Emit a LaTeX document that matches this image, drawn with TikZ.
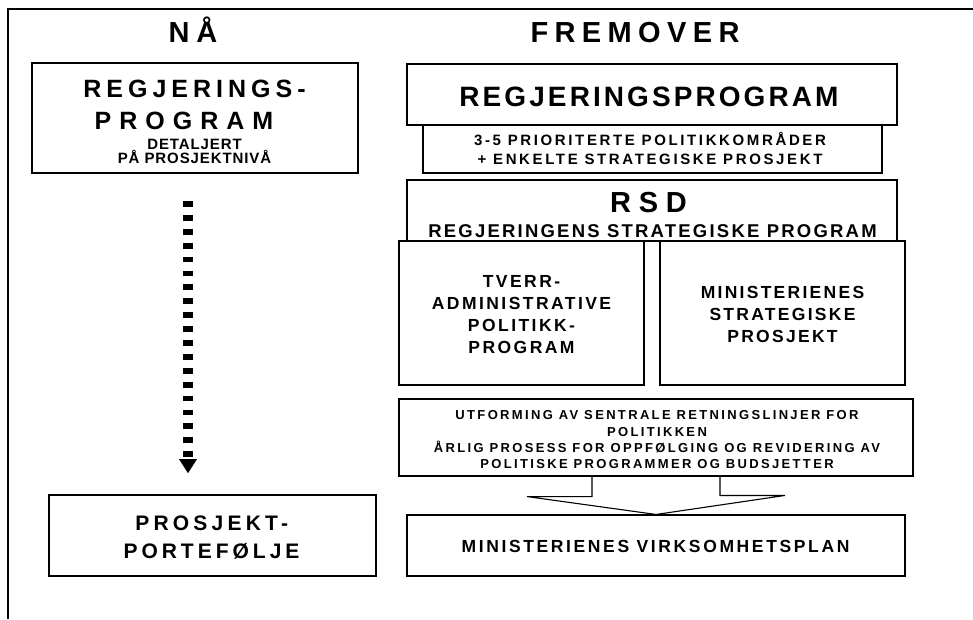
\documentclass[tikz,border=0pt]{standalone}
\usepackage{fontspec}
\setmainfont{Liberation Sans}
\usetikzlibrary{arrows.meta}
\newcommand{\tf}[2]{\fontsize{#1pt}{#1pt}\selectfont\bfseries\addfontfeatures{LetterSpace=#2}}
\tikzset{
  box/.style={draw=black, line width=1.1pt, inner sep=0pt, fill=white, rectangle},
  txt/.style={inner sep=0pt, anchor=base, text=black},
  frameline/.style={draw=black, line width=1.1pt},
  dotarrow/.style={line width=10pt, dash pattern=on 5.8pt off 8.1pt,
     -{Triangle[width=18pt,length=14pt,line width=0.01pt]}},
  bigarrow/.style={draw=black, line width=1.1pt, line join=miter}
}
\begin{document}
\begin{tikzpicture}[x=1pt,y=-1pt]
\useasboundingbox (0,0) rectangle (973,619);
\fill[white] (0,0) rectangle (973,619);
% frame
\coordinate (f0) at (8,619);
\coordinate (f1) at (8,9);
\coordinate (f2) at (973,9);
\draw[frameline] (f0) -- (f1) -- (f2);

% headers
\node[txt] (nh) at (193,42.7) {\tf{29}{24}NÅ};
\node[txt] (fh) at (635,42.7) {\tf{29}{22}FREMOVER};

% left column
\node[box, minimum width=326pt, minimum height=110pt] (lp) at (195,118) {};
\node[txt] (l1) at (194.5,97) {\tf{25}{20}REGJERINGS-};
\node[txt] (l2) at (184,129) {\tf{25}{32}PROGRAM};
\node[txt] (l3) at (194.5,149) {\tf{15}{6}DETALJERT};
\node[txt] (l4) at (194.5,163) {\tf{15}{6}PÅ PROSJEKTNIVÅ};

\node[box, minimum width=327pt, minimum height=81pt] (pf) at (212.5,535.5) {};
\node[txt] (p1) at (211.7,530) {\tf{21}{20}PROSJEKT-};
\node[txt] (p2) at (211.5,558) {\tf{21}{19}PORTEFØLJE};

\coordinate (da) at (188,173);
\coordinate (db) at (188,495);
\draw[dotarrow, shorten <=28pt, shorten >=22pt] (da) -- (db);

% right column
\node[box, minimum width=490pt, minimum height=61pt] (rp) at (652,94.5) {};
\node[txt] (r1) at (649,106) {\tf{28}{11}REGJERINGSPROGRAM};

\node[box, minimum width=459pt, minimum height=48pt] (pk) at (652.5,149) {};
\node[txt] (r2) at (650,145.7) {\tf{15}{17.5}3-5 PRIORITERTE POLITIKKOMRÅDER};
\node[txt] (r3) at (650,164) {\tf{15}{17.5}+ ENKELTE STRATEGISKE PROSJEKT};

\node[box, minimum width=490pt, minimum height=61pt] (rsd) at (652,210.5) {};
\node[txt] (r4) at (648.5,212.7) {\tf{29}{27}RSD};
\node[txt] (r5) at (652.5,237) {\tf{18.5}{12}REGJERINGENS STRATEGISKE PROGRAM};

\node[box, minimum width=245pt, minimum height=144pt] (tv) at (521.5,313) {};
\node[txt] (t1) at (521.5,287) {\tf{17.5}{14}TVERR-};
\node[txt] (t2) at (521.5,309) {\tf{17.5}{14}ADMINISTRATIVE};
\node[txt] (t3) at (521.5,331.5) {\tf{17.5}{14}POLITIKK-};
\node[txt] (t4) at (521.5,353) {\tf{17.5}{14}PROGRAM};

\node[box, minimum width=245pt, minimum height=144pt] (ms) at (782.5,313) {};
\node[txt] (m1) at (782.5,298) {\tf{17.5}{13}MINISTERIENES};
\node[txt] (m2) at (782.5,320) {\tf{17.5}{13}STRATEGISKE};
\node[txt] (m3) at (782.5,342) {\tf{17.5}{13}PROSJEKT};

\node[box, minimum width=514pt, minimum height=77pt] (ut) at (656,437.5) {};
\node[txt] (u1) at (657,419) {\tf{13}{18}UTFORMING AV SENTRALE RETNINGSLINJER FOR};
\node[txt] (u2) at (657,436) {\tf{13}{18}POLITIKKEN};
\node[txt] (u3) at (657,452.7) {\tf{13}{18}ÅRLIG PROSESS FOR OPPFØLGING OG REVIDERING AV};
\node[txt] (u4) at (657,468.7) {\tf{13}{18}POLITISKE PROGRAMMER OG BUDSJETTER};

\node[box, minimum width=498pt, minimum height=61pt] (vp) at (656,545.5) {};
\node[txt] (v1) at (655.5,552.7) {\tf{17.5}{15}MINISTERIENES VIRKSOMHETSPLAN};

% hollow block arrow
\draw[bigarrow] ([xshift=-64pt]ut.south) -- ++(0,20) -- ++(-65,0) -- (vp.north)
   -- ++(129,-19) -- ++(-65,0) -- ([xshift=64pt]ut.south);
\end{tikzpicture}
\end{document}
